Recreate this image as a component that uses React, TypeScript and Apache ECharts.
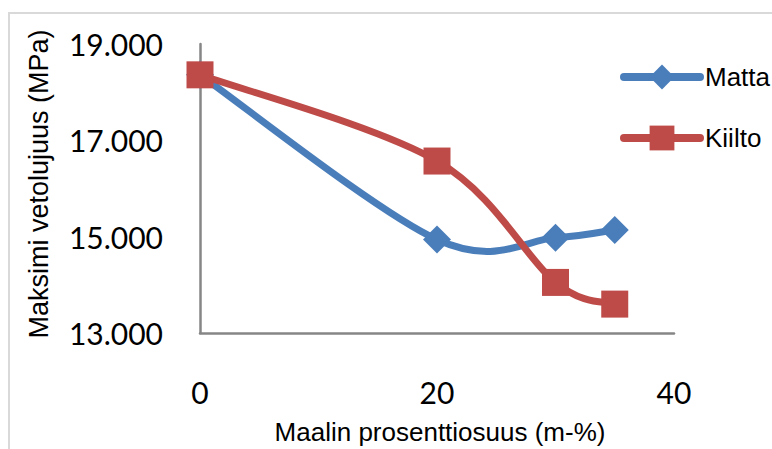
import React, { useEffect, useRef } from "react";
import * as echarts from "echarts";

// Paint share (m-%) on the x axis
const shares = [0, 20, 30, 35];
// Maximum tensile strength (MPa) per paint type
const matta = [18.36, 14.94, 14.98, 15.14];
const kiilto = [18.36, 16.57, 14.05, 13.6];
const seriesNames = ["Matta", "Kiilto"];
const xTitle = "Maalin prosenttiosuus (m-%)";
const yTitle = "Maksimi vetolujuus (MPa)";

const BLUE = "#4A7EBB";
const RED = "#BE4B48";
const AXIS = "#868686";
const TICK_FONT = "Lato, 'Open Sans', sans-serif";
const TITLE_FONT = "'Liberation Sans', Arial, sans-serif";
const LINE_W = 7;

// Catmull-Rom style cubic Bezier through pixel points (overshoot allowed).
function smoothPath(pts: number[][]): string {
  let d = `M${pts[0][0]},${pts[0][1]}`;
  for (let i = 0; i < pts.length - 1; i++) {
    const p0 = pts[Math.max(0, i - 1)];
    const p1 = pts[i];
    const p2 = pts[i + 1];
    const p3 = pts[Math.min(pts.length - 1, i + 2)];
    const c1x = p1[0] + (p2[0] - p0[0]) / 6;
    const c1y = p1[1] + (p2[1] - p0[1]) / 6;
    const c2x = p2[0] - (p3[0] - p1[0]) / 6;
    const c2y = p2[1] - (p3[1] - p1[1]) / 6;
    d += ` C${c1x},${c1y} ${c2x},${c2y} ${p2[0]},${p2[1]}`;
  }
  return d;
}

export default function App() {
  const ref = useRef<HTMLDivElement>(null);

  useEffect(() => {
    if (!ref.current) return;
    const chart = echarts.init(ref.current, null, { renderer: "svg" });
    const pair = (ys: number[]) => shares.map((x, i) => [x, ys[i]]);

    const curve = (name: string, ys: number[], color: string) => ({
      name: `${name} curve`,
      type: "custom",
      silent: true,
      data: pair(ys),
      renderItem: (params: any, api: any) => {
        if (params.dataIndex !== 0) return null;
        const pts = pair(ys).map((p) => api.coord(p));
        return {
          type: "path",
          shape: { pathData: smoothPath(pts) },
          style: {
            fill: "none",
            stroke: color,
            lineWidth: LINE_W,
            lineCap: "round",
            lineJoin: "round",
          },
        };
      },
    });

    const markers = (name: string, ys: number[], color: string, symbol: string, size: number) => ({
      name,
      type: "line",
      data: pair(ys),
      symbol,
      symbolSize: size,
      lineStyle: { color, width: LINE_W, opacity: 0 },
      itemStyle: { color },
    });

    chart.setOption({
      animation: false,
      backgroundColor: "#ffffff",
      grid: { left: 200, right: 98, top: 44, bottom: 116 },
      legend: {
        orient: "vertical",
        left: 615,
        top: 59,
        itemWidth: 76,
        itemHeight: 31,
        itemGap: 35,
        data: seriesNames,
        lineStyle: { width: 8, opacity: 1, cap: "round" },
        textStyle: { fontFamily: TITLE_FONT, fontSize: 26, color: "#000" },
      },
      xAxis: {
        type: "value",
        min: 0,
        max: 40,
        interval: 20,
        axisLine: { show: true, onZero: false, lineStyle: { color: AXIS, width: 2.5 } },
        axisTick: { show: false },
        splitLine: { show: false },
        axisLabel: {
          margin: 44,
          fontFamily: TICK_FONT,
          fontSize: 30,
          lineHeight: 30,
          color: "#000",
        },
      },
      yAxis: {
        type: "value",
        min: 13,
        max: 19,
        interval: 2,
        axisLine: { show: true, lineStyle: { color: AXIS, width: 2.5 } },
        axisTick: { show: false },
        splitLine: { show: false },
        axisLabel: {
          margin: 37,
          fontFamily: TICK_FONT,
          fontSize: 30,
          color: "#000",
          formatter: (v: number) => v.toFixed(3),
        },
      },
      graphic: [
        {
          type: "rect",
          silent: true,
          z: -10,
          shape: { x: 9, y: 13, width: 800, height: 500 },
          style: { fill: "none", stroke: "#d9d9d9", lineWidth: 2 },
        },
        {
          type: "text",
          x: 440,
          y: 432,
          style: {
            text: xTitle,
            fontFamily: TITLE_FONT,
            fontSize: 26,
            fill: "#000",
            align: "center",
            verticalAlign: "middle",
          },
        },
        {
          type: "text",
          x: 39,
          y: 184,
          rotation: Math.PI / 2,
          style: {
            text: yTitle,
            fontFamily: TITLE_FONT,
            fontSize: 27,
            fill: "#000",
            align: "center",
            verticalAlign: "middle",
          },
        },
      ],
      series: [
        curve(seriesNames[0], matta, BLUE),
        markers(seriesNames[0], matta, BLUE, "diamond", 28),
        curve(seriesNames[1], kiilto, RED),
        markers(seriesNames[1], kiilto, RED, "rect", 27),
      ],
    });

    return () => chart.dispose();
  }, []);

  return (
    <div
      ref={ref}
      style={{ position: "absolute", left: 0, top: 0, width: 772, height: 449 }}
    />
  );
}
